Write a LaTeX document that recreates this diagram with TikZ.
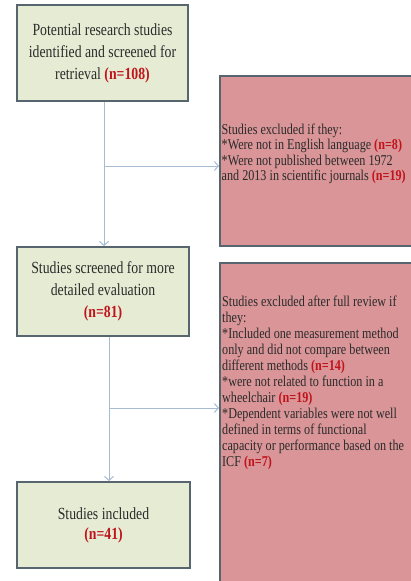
\documentclass[tikz,border=0pt]{standalone}
\usepackage{fontspec}
\setmainfont[FakeStretch=0.81]{Liberation Serif}
\usetikzlibrary{arrows.meta}
\definecolor{greenfill}{HTML}{E6ECD4}
\definecolor{redfill}{HTML}{D99597}
\definecolor{boxline}{HTML}{56656E}
\definecolor{conn}{HTML}{A7BBD3}
\definecolor{txt}{HTML}{2A2A2A}
\definecolor{nred}{HTML}{C0141C}
\newcommand{\nval}[1]{\textcolor{nred}{\textbf{#1}}}
\tikzset{
  greenbox/.style={draw=boxline, line width=1.8pt, fill=greenfill, text=txt,
    align=center, inner sep=0pt, font=\fontsize{17}{22}\selectfont},
  redbox/.style={draw=boxline, line width=1.8pt, fill=redfill, inner sep=0pt},
  redtext/.style={text=txt, align=left, inner sep=0pt, anchor=west,
    font=\fontsize{15}{16}\selectfont},
  conline/.style={draw=conn, line width=1pt},
  conarrow/.style={conline, -{Straight Barb[length=4pt,width=9pt]}}
}
\begin{document}
\begin{tikzpicture}[x=1pt,y=-1pt]
\useasboundingbox (0,0) rectangle (411,581);
\clip (0,0) rectangle (411,581);
\fill[white] (0,0) rectangle (411,581);
% green boxes
\node[greenbox, minimum width=171pt, minimum height=96pt] (b1) at (102.5,53)
  {Potential research studies\\identified and screened for\\retrieval \nval{(n=108)}};
\node[greenbox, minimum width=172pt, minimum height=89pt] (b2) at (103,291.5)
  {Studies screened for more\\detailed evaluation\\\nval{(n=81)}};
\node[greenbox, minimum width=173pt, minimum height=86pt, font=\fontsize{17}{20}\selectfont] (b3) at (103.5,525)
  {Studies included\\\nval{(n=41)}};
% red boxes
\node[redbox, anchor=north west, minimum width=194pt, minimum height=170pt] (r1) at (219,75) {};
\node[redtext, font=\fontsize{15}{15.5}\selectfont] (t1) at (221.5,154)
  {Studies excluded if they:\\*Were not in English language \nval{(n=8)}\\*Were not published between 1972\\and 2013 in scientific journals \nval{(n=19)}};
\node[redbox, anchor=north west, minimum width=194pt, minimum height=340pt] (r2) at (219,262) {};
\node[redtext] (t2) at (222,383)
  {Studies excluded after full review if\\they:\\*Included one measurement method\\only and did not compare between\\different methods \nval{(n=14)}\\*were not related to function in a\\wheelchair \nval{(n=19)}\\*Dependent variables were not well\\defined in terms of functional\\capacity or performance based on the\\ICF \nval{(n=7)}};
% connectors
\coordinate (j1) at (104,166);
\coordinate (j2) at (109,408);
\draw[conarrow] (b1.south -| j1) -- (b2.north -| j1);
\draw[conarrow] (j1) -- (r1.west |- j1);
\draw[conarrow] (b2.south -| j2) -- (b3.north -| j2);
\draw[conarrow] (j2) -- (r2.west |- j2);
\end{tikzpicture}
\end{document}
